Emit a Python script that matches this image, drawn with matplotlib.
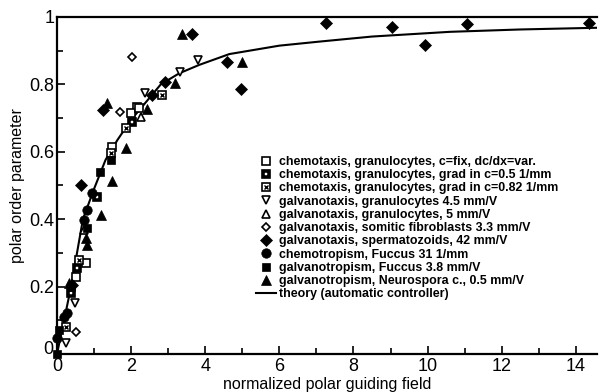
import matplotlib
matplotlib.use("Agg")
import matplotlib.pyplot as plt
from matplotlib.legend_handler import HandlerTuple
from matplotlib.transforms import ScaledTranslation

plt.rcParams['font.family'] = ['Liberation Sans', 'DejaVu Sans']

# ---- data ----
s1_x = [2.16, 2.0, 2.22, 1.49, 0.78, 0.51]
s1_y = [0.733, 0.715, 0.73, 0.614, 0.27, 0.228]
s2_x = [2.03, 1.08, 0.54, 0.38]
s2_y = [0.688, 0.466, 0.255, 0.181]
s3_x = [2.84, 1.86, 1.45, 0.59, 0.24]
s3_y = [0.769, 0.671, 0.595, 0.279, 0.08]
s4_x = [3.81, 3.32, 2.38, 0.49, 0.24]
s4_y = [0.872, 0.837, 0.774, 0.151, 0.033]
s5_x = [2.26, 0.73]
s5_y = [0.704, 0.368]
s6_x = [2.03, 1.70, 0.51]
s6_y = [0.881, 0.718, 0.065]
s7_x = [7.27, 9.03, 9.92, 11.05, 14.35, 4.58, 4.97, 3.65, 2.92, 2.57, 1.24, 0.65, 0.41]
s7_y = [0.982, 0.97, 0.917, 0.979, 0.982, 0.866, 0.786, 0.95, 0.807, 0.769, 0.724, 0.501, 0.205]
s8_x = [0.95, 0.81, 0.73, 0.27, 0.19, 0.0]
s8_y = [0.478, 0.427, 0.398, 0.122, 0.11, 0.047]
s9_x = [1.46, 1.16, 0.81, 0.38, 0.05, 0.0]
s9_y = [0.576, 0.54, 0.374, 0.199, 0.071, 0.0]
s10_x = [3.38, 5.0, 3.19, 2.43, 1.35, 1.86, 1.49, 1.19, 0.78, 0.81, 0.32]
s10_y = [0.95, 0.866, 0.804, 0.727, 0.745, 0.611, 0.513, 0.412, 0.344, 0.323, 0.211]

theory_x = [0, 0.2, 0.38, 0.7, 1.0, 1.31, 1.63, 2.0, 2.26, 2.8, 3.3, 3.84,
            4.65, 6.0, 7.08, 8.5, 10.6, 12.5, 14.55]
theory_y = [0, 0.105, 0.2, 0.4, 0.49, 0.576, 0.635, 0.695, 0.729, 0.8, 0.833,
            0.858, 0.89, 0.915, 0.927, 0.942, 0.956, 0.963, 0.968]

x_ticks = [0, 2, 4, 6, 8, 10, 12, 14]
x_minor = [1, 3, 5, 7, 9, 11, 13]
y_ticks = [0, 0.2, 0.4, 0.6, 0.8, 1.0]
y_ticklabels = ['0', '0.2', '0.4', '0.6', '0.8', '1']
y_minor = [0.1, 0.3, 0.5, 0.7, 0.9]

labels = [
    "chemotaxis, granulocytes, c=fix, dc/dx=var.",
    "chemotaxis, granulocytes, grad in c=0.5 1/mm",
    "chemotaxis, granulocytes, grad in c=0.82 1/mm",
    "galvanotaxis, granulocytes 4.5 mm/V",
    "galvanotaxis, granulocytes, 5 mm/V",
    "galvanotaxis, somitic fibroblasts 3.3 mm/V",
    "galvanotaxis, spermatozoids, 42 mm/V",
    "chemotropism, Fuccus 31 1/mm",
    "galvanotropism, Fuccus 3.8 mm/V",
    "galvanotropism, Neurospora c., 0.5 mm/V",
    "theory (automatic controller)",
]

fig = plt.figure(figsize=(6.10, 3.92), dpi=100)
ax = fig.add_axes([57/610, 1-354/392, (597-57)/610, (354-17)/392])

lw = 1.2
kw = dict(linestyle='none', clip_on=False, zorder=3)
line, = ax.plot(theory_x, theory_y, color='black', lw=1.5, zorder=2)

h1, = ax.plot(s1_x, s1_y, marker='s', ms=5.8, mfc='white', mec='black', mew=lw, **kw)
h2a, = ax.plot(s2_x, s2_y, marker='s', ms=5.8, mfc='black', mec='black', mew=lw, **kw)
h2b, = ax.plot(s2_x, s2_y, marker='s', ms=1.8, mfc='white', mec='white', mew=0.3, **kw)
h3a, = ax.plot(s3_x, s3_y, marker='s', ms=5.8, mfc='white', mec='black', mew=lw, **kw)
h3b, = ax.plot(s3_x, s3_y, marker='x', ms=3.2, mec='black', mew=1.0, **kw)
h4, = ax.plot(s4_x, s4_y, marker='v', ms=6.3, mfc='white', mec='black', mew=lw, **kw)
h5, = ax.plot(s5_x, s5_y, marker='^', ms=6.3, mfc='white', mec='black', mew=lw, **kw)
h6, = ax.plot(s6_x, s6_y, marker='D', ms=4.2, mfc='white', mec='black', mew=lw, **kw)
h7, = ax.plot(s7_x, s7_y, marker='D', ms=6, mfc='black', mec='black', mew=0.5, **kw)
h8, = ax.plot(s8_x, s8_y, marker='o', ms=6.8, mfc='black', mec='black', mew=0.5, **kw)
h9, = ax.plot(s9_x, s9_y, marker='s', ms=6.3, mfc='black', mec='black', mew=0.5, **kw)
h10, = ax.plot(s10_x, s10_y, marker='^', ms=7.3, mfc='black', mec='black', mew=0.5, **kw)

handles = [h1, (h2a, h2b), (h3a, h3b), h4, h5, h6, h7, h8, h9, h10, line]
leg = ax.legend(handles, labels, loc='upper left',
                bbox_to_anchor=(256/610, 1-156/392), bbox_transform=fig.transFigure,
                frameon=False, handlelength=1.6, handletextpad=0.3,
                labelspacing=0.1, borderpad=0, borderaxespad=0,
                handler_map={tuple: HandlerTuple(ndivide=1, pad=0)},
                prop={'family': ['Liberation Sans', 'DejaVu Sans'], 'weight': 'bold', 'size': 8.9})

ax.set_xlim(0, 14.57)
ax.set_ylim(0, 1)
ax.set_xticks(x_ticks)
ax.set_xticklabels([str(v) for v in x_ticks])
ax.set_xticks(x_minor, minor=True)
ax.set_yticks(y_ticks)
ax.set_yticklabels(y_ticklabels)
ax.set_yticks(y_minor, minor=True)
ax.tick_params(which='both', direction='in', top=False, right=False, width=1.2,
               labelsize=13, pad=2)
ax.tick_params(axis='x', pad=3)
ax.tick_params(which='major', length=6)
ax.tick_params(which='minor', length=4)
for s in ['left', 'bottom', 'top']:
    ax.spines[s].set_linewidth(1.6)
ax.spines['right'].set_visible(False)

# nudge the y "0" label up slightly so it doesn't collide with the x "0"
lbl0 = ax.get_yticklabels()[0]
lbl0.set_transform(lbl0.get_transform() + ScaledTranslation(-0.01, 0.06, fig.dpi_scale_trans))

ax.set_xlabel('normalized polar guiding field', fontsize=11.5, labelpad=1)
ax.set_ylabel('polar order parameter', fontsize=11.5, labelpad=3)

fig.savefig('out.png', dpi=100)
